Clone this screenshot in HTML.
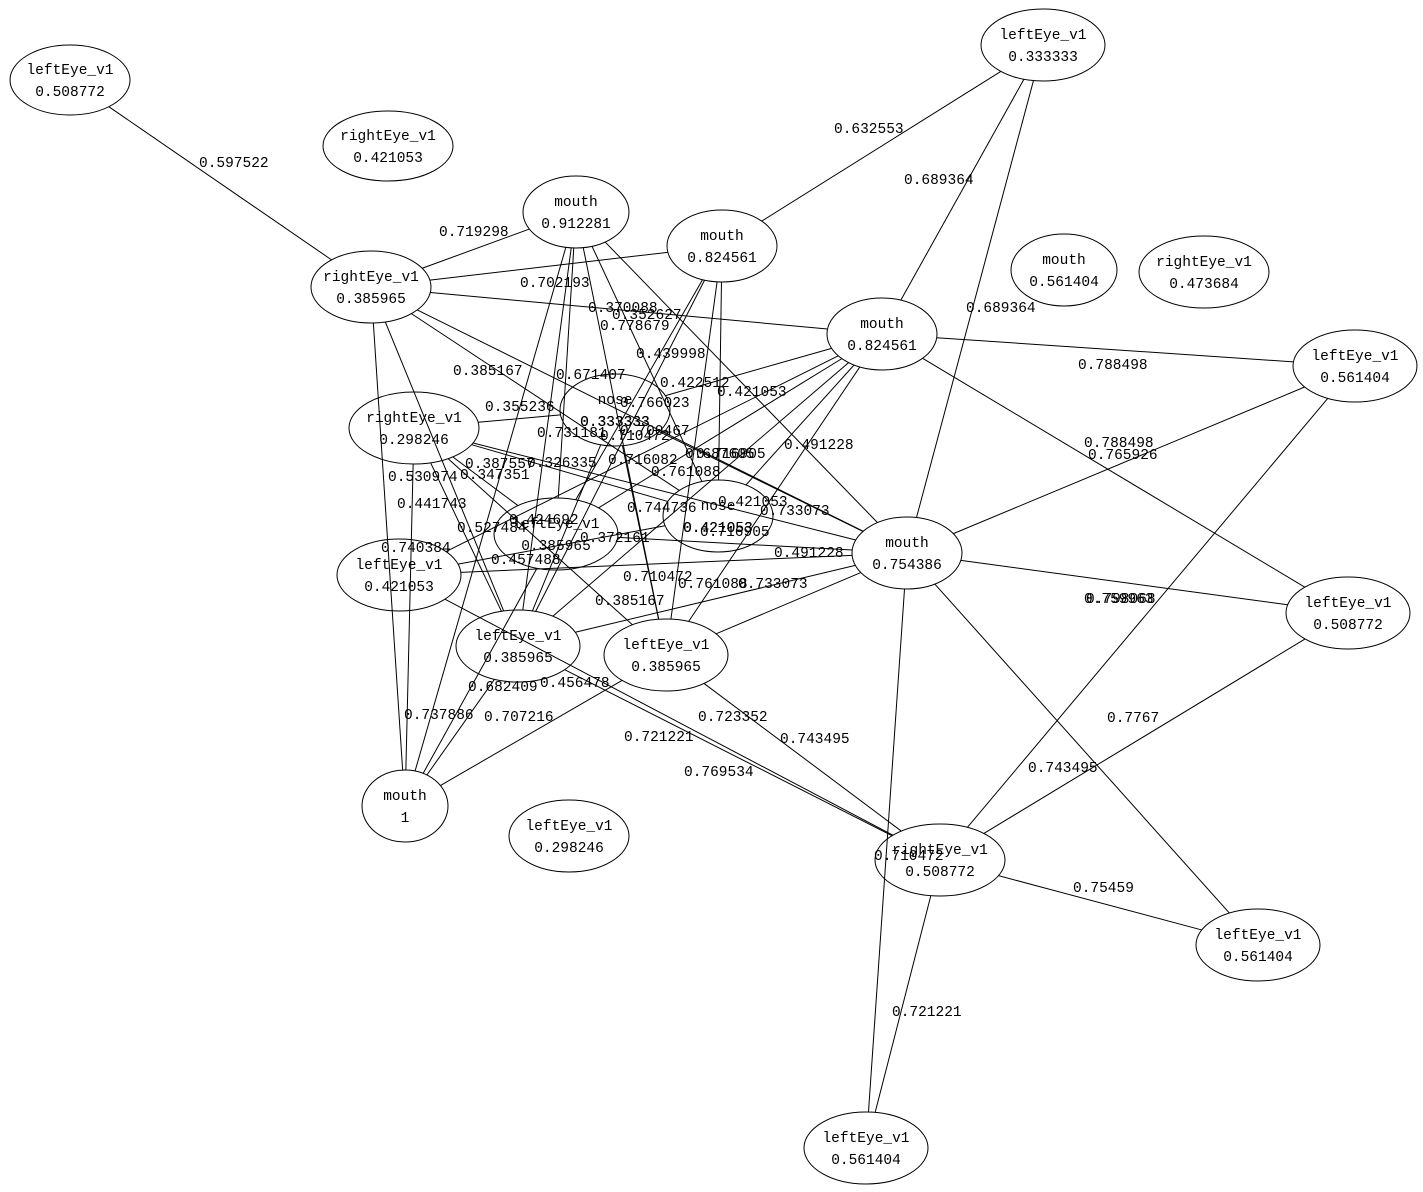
<!DOCTYPE html>
<html><head><meta charset="utf-8"><style>
html,body{margin:0;padding:0;background:#fff;}
svg{display:block;}
text{font-family:"Liberation Mono",monospace;font-size:14.5px;fill:#000;}
</style></head><body>
<svg id="s" width="1423" height="1192" viewBox="0 0 1423 1192" xmlns="http://www.w3.org/2000/svg">
<g id="E" stroke="#000" stroke-width="1" fill="none"></g>
<g id="N" stroke="#000" stroke-width="1" fill="none"></g>
<g id="T"></g>
</svg>
<script>
var nodes={
1:[70,80,60,35,"leftEye_v1","0.508772"],
2:[388,146,65,35,"rightEye_v1","0.421053"],
3:[1043,45,62,36,"leftEye_v1","0.333333"],
4:[576,212,53,36,"mouth","0.912281"],
5:[722,246,55,36,"mouth","0.824561"],
6:[371,287,60,36,"rightEye_v1","0.385965"],
7:[1064,270,53,36,"mouth","0.561404"],
8:[1204,272,65,36,"rightEye_v1","0.473684"],
9:[882,334,55,36,"mouth","0.824561"],
10:[1355,366,62,36,"leftEye_v1","0.561404"],
11:[615,410,55,36,"nose","0.333333"],
12:[414,428,65,36,"rightEye_v1","0.298246"],
13:[556,534,62,36,"leftEye_v1","0.385965"],
14:[718,516,55,36,"nose","0.421053"],
15:[907,553,55,36,"mouth","0.754386"],
16:[399,575,62,36,"leftEye_v1","0.421053"],
17:[1348,613,62,36,"leftEye_v1","0.508772"],
18:[518,646,62,36,"leftEye_v1","0.385965"],
19:[666,655,62,36,"leftEye_v1","0.385965"],
20:[405,806,43,36,"mouth","1"],
21:[569,836,60,36,"leftEye_v1","0.298246"],
22:[940,860,65,36,"rightEye_v1","0.508772"],
23:[1258,945,62,36,"leftEye_v1","0.561404"],
24:[866,1148,62,36,"leftEye_v1","0.561404"]};
var edges=[[1,6],[3,5],[3,9],[3,15],[6,4],[6,5],[6,9],[6,15],[6,14],[6,18],[6,20],[4,18],[4,13],[4,19],[4,15],[4,14],
[5,18],[5,13],[5,19],[5,14],[9,11],[9,13],[9,16],[9,18],[9,19],[9,14],[9,10],[9,17],[10,15],[10,22],[15,17],[15,23],
[15,24],[22,23],[22,24],[17,22],[12,11],[12,15],[12,18],[12,19],[12,20],[16,15],[16,14],[16,22],[13,20],[18,20],[19,20],
[18,15],[19,15],[19,22],[18,22],[11,15],[11,19],[13,15],[12,13],[12,14],[11,18],[4,20]];
var ns="http://www.w3.org/2000/svg";
function el(t,a,p){var e=document.createElementNS(ns,t);for(var k in a)e.setAttribute(k,a[k]);document.getElementById(p).appendChild(e);return e;}
function clip(a,b){var dx=b[0]-a[0],dy=b[1]-a[1];var t=1/Math.sqrt(dx*dx/(a[2]*a[2])+dy*dy/(a[3]*a[3]));return [a[0]+dx*t,a[1]+dy*t];}
edges.forEach(function(e){var a=nodes[e[0]],b=nodes[e[1]];var p=clip(a,b),q=clip(b,a);el("line",{x1:p[0],y1:p[1],x2:q[0],y2:q[1]},"E");});
for(var k in nodes){var n=nodes[k];el("ellipse",{cx:n[0],cy:n[1],rx:n[2],ry:n[3]},"N");
var t=el("text",{x:n[0],y:n[1]-6,"text-anchor":"middle"},"T");t.textContent=n[4];
t=el("text",{x:n[0],y:n[1]+16,"text-anchor":"middle"},"T");t.textContent=n[5];}
var labels=[["0.597522",199,162],["0.632553",834,128],["0.689364",904,179],["0.689364",966,307],["0.719298",439,231],
["0.702193",520,282],["0.370088",588,307],["0.352627",612,314],["0.778679",600,325],["0.439998",636,353],["0.385167",453,370],
["0.671407",556,374],["0.422512",660,382],["0.421053",717,391],["0.355236",485,406],["0.766023",620,402],["0.333333",580,421],
["0.731181",537,432],["0.710472",600,435],["0.700467",620,430],["0.491228",784,444],["0.788498",1078,364],["0.788498",1084,442],
["0.765926",1088,454],["0.716082",608,459],["0.761088",651,471],["0.687605",685,453],["0.716905",696,453],["0.387557",465,463],
["0.326335",527,462],["0.530974",388,476],["0.347351",460,474],["0.441743",397,503],["0.744736",627,507],["0.421053",718,501],
["0.733073",760,510],["0.527484",457,527],["0.424692",509,519],["0.421053",683,527],["0.716905",700,531],["0.372161",580,537],
["0.740384",381,547],["0.491228",774,552],["0.457488",491,559],["0.710472",623,576],["0.761088",678,583],["0.733073",738,583],
["0.385167",595,600],["0.759963",1084,598],["0.798068",1086,598],["0.682409",468,686],["0.456478",540,682],["0.737886",404,714],
["0.707216",484,716],["0.723352",698,716],["0.7767",1107,717],["0.721221",624,736],["0.743495",780,738],["0.769534",684,771],
["0.743495",1028,767],["0.710472",874,855],["0.75459",1073,887],["0.721221",892,1011]];
labels.forEach(function(l){var t=el("text",{x:l[1],y:l[2]+5},"T");t.textContent=l[0];});
</script>
</body></html>
